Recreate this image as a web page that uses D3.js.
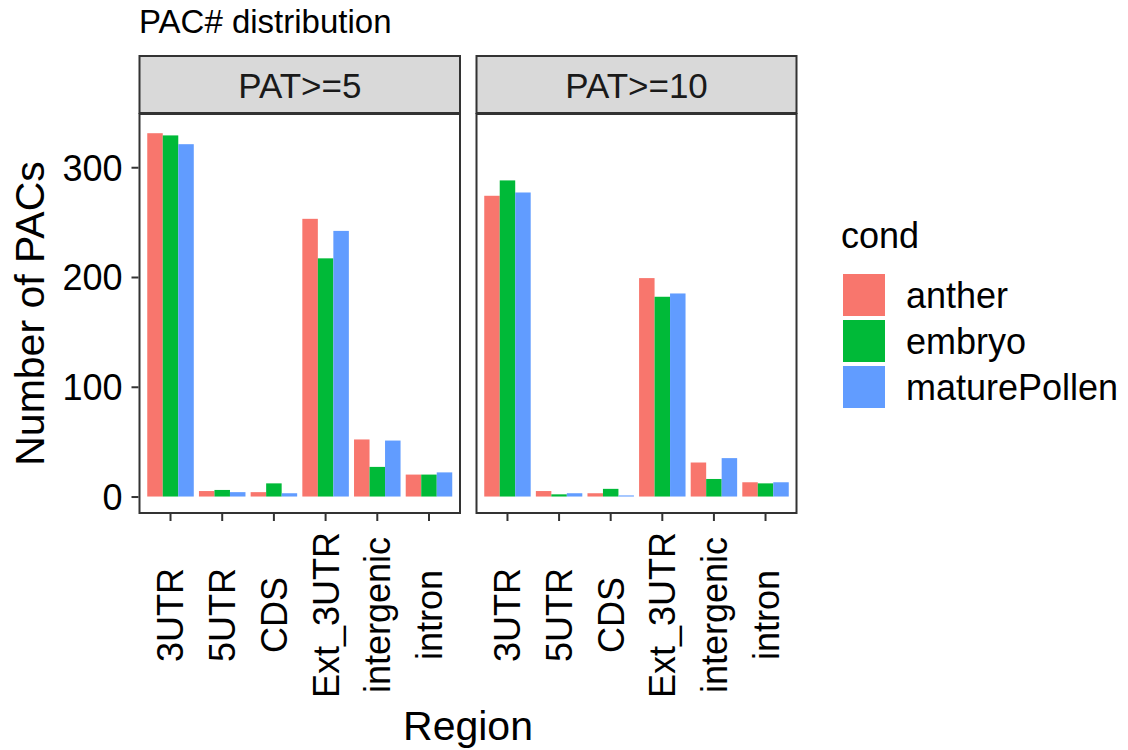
<!DOCTYPE html>
<html>
<head>
<meta charset="utf-8">
<script src="https://cdn.jsdelivr.net/npm/d3@7"></script>
<style>
  html, body { margin: 0; padding: 0; background: #fff; }
  svg { display: block; font-family: "Liberation Sans", Arial, Helvetica, sans-serif; }
</style>
</head>
<body>
<svg id="chart" width="1128" height="750"></svg>
<script>
// ---- data ----
const regions = ["3UTR", "5UTR", "CDS", "Ext_3UTR", "intergenic", "intron"];
const conds = ["anther", "embryo", "maturePollen"];
const facets = ["PAT>=5", "PAT>=10"];
const pat5_anther = [331, 5, 4, 253, 52, 20];
const pat5_embryo = [329, 6, 12, 217, 27, 20];
const pat5_maturePollen = [321, 4, 3, 242, 51, 22];
const pat10_anther = [274, 5, 3, 199, 31, 13];
const pat10_embryo = [288, 2, 7, 182, 16, 12];
const pat10_maturePollen = [277, 3, 1, 185, 35, 13];
const yTicks = [0, 100, 200, 300];
const colors = ["#F8766D", "#00BA38", "#619CFF"];
const titleText = "PAC# distribution";
const xTitle = "Region";
const yTitle = "Number of PACs";
const legendTitle = "cond";

const facetData = [
  [pat5_anther, pat5_embryo, pat5_maturePollen],
  [pat10_anther, pat10_embryo, pat10_maturePollen]
];

// ---- layout ----
const svg = d3.select("#chart");
const panelTop = 114, panelBottom = 513;
const panelX = [[139.5, 460], [476.5, 796.5]];
const stripTop = 56;

const y = d3.scaleLinear().domain([-15, 348.5]).range([panelBottom, panelTop]);
const color = d3.scaleOrdinal().domain(conds).range(colors);

// Title
svg.append("text")
  .attr("x", 139).attr("y", 33)
  .attr("font-size", 33).attr("fill", "#000")
  .text(titleText);

facets.forEach((f, fi) => {
  const [x0, x1] = panelX[fi];
  const x = d3.scaleBand().domain(regions).range([x0, x1]).paddingInner(0.1).paddingOuter(0.15);
  const xs = d3.scaleBand().domain(conds).range([0, x.bandwidth()]);
  const g = svg.append("g");

  g.append("rect").attr("x", x0).attr("y", panelTop).attr("width", x1 - x0).attr("height", panelBottom - panelTop)
    .attr("fill", "#fff");

  conds.forEach((c, ci) => {
    g.selectAll(null).data(regions.map((r, ri) => ({r, v: facetData[fi][ci][ri]})))
      .enter().append("rect")
      .attr("x", d => x(d.r) + xs(c))
      .attr("width", xs.bandwidth())
      .attr("y", d => y(d.v))
      .attr("height", d => y(0) - y(d.v))
      .attr("fill", color(c));
  });

  g.append("rect").attr("x", x0).attr("y", panelTop).attr("width", x1 - x0).attr("height", panelBottom - panelTop)
    .attr("fill", "none").attr("stroke", "#333333").attr("stroke-width", 2);

  g.append("rect").attr("x", x0).attr("y", stripTop).attr("width", x1 - x0).attr("height", panelTop - stripTop - 1)
    .attr("fill", "#D9D9D9").attr("stroke", "#333333").attr("stroke-width", 2);
  g.append("text")
    .attr("x", (x0 + x1) / 2).attr("y", (stripTop + panelTop) / 2)
    .attr("dy", "0.36em").attr("text-anchor", "middle")
    .attr("font-size", 35).attr("fill", "#1A1A1A")
    .text(f);

  const xAxis = d3.axisBottom(x).tickSize(7).tickPadding(0).tickFormat("");
  const ax = svg.append("g").attr("transform", `translate(0,${panelBottom + 1})`).call(xAxis);
  ax.select(".domain").remove();
  ax.selectAll(".tick line").attr("stroke", "#333333").attr("stroke-width", 2);
  ax.selectAll(".tick").append("text")
    .attr("transform", "translate(0,101) rotate(-90)")
    .attr("dy", "0.36em")
    .attr("text-anchor", "middle")
    .attr("font-size", 36).attr("fill", "#000")
    .text(d => d);
});

const yAxis = d3.axisLeft(y).tickValues(yTicks).tickSize(7).tickPadding(9);
const ay = svg.append("g").attr("transform", `translate(${panelX[0][0] - 1},0)`).call(yAxis);
ay.select(".domain").remove();
ay.selectAll(".tick line").attr("stroke", "#333333").attr("stroke-width", 2);
ay.selectAll(".tick text").attr("font-size", 36).attr("fill", "#000")
  .attr("font-family", "Liberation Sans, Arial, sans-serif").attr("dy", "0.36em");

svg.append("text")
  .attr("x", (panelX[0][0] + panelX[1][1]) / 2).attr("y", 740)
  .attr("text-anchor", "middle").attr("font-size", 41).attr("fill", "#000")
  .text(xTitle);
svg.append("text")
  .attr("transform", `translate(44,${(panelTop + panelBottom) / 2}) rotate(-90)`)
  .attr("text-anchor", "middle").attr("font-size", 41).attr("fill", "#000")
  .text(yTitle);

const lg = svg.append("g");
lg.append("text").attr("x", 841).attr("y", 248).attr("font-size", 36).attr("fill", "#000").text(legendTitle);
conds.forEach((c, i) => {
  const top = 273 + i * 46;
  lg.append("rect").attr("x", 842).attr("y", top).attr("width", 44).attr("height", 44)
    .attr("fill", color(c)).attr("stroke", "#fff").attr("stroke-width", 2);
  lg.append("text").attr("x", 906).attr("y", top + 22).attr("dy", "0.36em")
    .attr("font-size", 36).attr("fill", "#000").text(c);
});
</script>
</body>
</html>
